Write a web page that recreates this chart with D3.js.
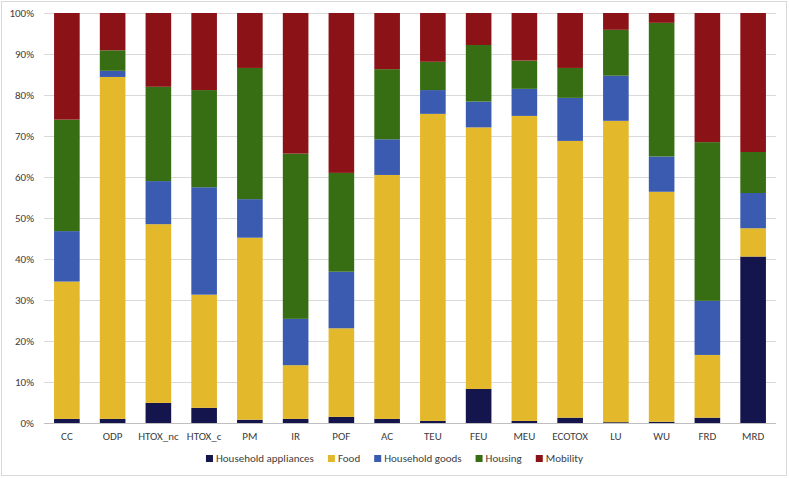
<!DOCTYPE html>
<html>
<head>
<meta charset="utf-8">
<script src="https://cdn.jsdelivr.net/npm/d3@7"></script>
<style>
  body { margin: 0; background: #fff; }
  text { font-family: Carlito, "Open Sans", "Liberation Sans", sans-serif; fill: #404040; }
</style>
</head>
<body>
<svg width="789" height="478"></svg>
<script>
// impact categories along the x axis
var categories = ["CC", "ODP", "HTOX_nc", "HTOX_c", "PM", "IR", "POF", "AC", "TEU", "FEU", "MEU", "ECOTOX", "LU", "WU", "FRD", "MRD"];

// share (%) of each consumption area
var appliances = [1.0, 1.0, 4.9, 3.7, 0.8, 1.0, 1.5, 1.0, 0.5, 8.3, 0.5, 1.3, 0.2, 0.3, 1.3, 40.6];
var food       = [33.5, 83.4, 43.6, 27.6, 44.4, 13.1, 21.6, 59.5, 74.9, 63.8, 74.4, 67.5, 73.5, 56.1, 15.3, 6.9];
var goods      = [12.3, 1.5, 10.5, 26.2, 9.4, 11.3, 13.8, 8.7, 5.8, 6.3, 6.6, 10.5, 11.0, 8.6, 13.2, 8.6];
var housing    = [27.2, 5.0, 23.0, 23.7, 32.0, 40.3, 24.1, 17.1, 6.9, 13.8, 6.9, 7.3, 11.2, 32.6, 38.7, 10.0];
var mobility   = [26.0, 9.1, 18.0, 18.8, 13.4, 34.3, 39.0, 13.7, 11.9, 7.8, 11.6, 13.4, 4.1, 2.4, 31.5, 33.9];

var seriesNames = ["Household appliances", "Food", "Household goods", "Housing", "Mobility"];
var seriesValues = [appliances, food, goods, housing, mobility];
var colors = ["#15154d", "#e3b82a", "#3a5bb0", "#386e13", "#8b1317"];
var yTicks = [0, 0.1, 0.2, 0.3, 0.4, 0.5, 0.6, 0.7, 0.8, 0.9, 1.0];

var svg = d3.select("svg"),
    width = +svg.attr("width"),
    height = +svg.attr("height");

// chart border
svg.append("rect")
    .attr("x", 1.5).attr("y", 1.5)
    .attr("width", width - 4).attr("height", height - 4)
    .attr("fill", "none")
    .attr("stroke", "#d9d9d9");

var margin = {left: 44, right: 13, top: 13, bottom: 55};

var x = d3.scaleBand()
    .domain(categories)
    .range([margin.left, width - margin.right])
    .paddingInner(0.44)
    .paddingOuter(0.22);

var y = d3.scaleLinear()
    .domain([0, 1])
    .range([height - margin.bottom, margin.top]);

// build rows for the stack, normalised to 100%
var rows = categories.map(function (c, i) {
    var row = {cat: c}, total = 0;
    seriesValues.forEach(function (s) { total += s[i]; });
    seriesNames.forEach(function (n, k) { row[n] = seriesValues[k][i] / total; });
    return row;
});

var stacked = d3.stack().keys(seriesNames)(rows);

// gridlines
svg.append("g")
    .selectAll("line")
    .data(yTicks)
    .enter().append("line")
    .attr("x1", margin.left)
    .attr("x2", width - margin.right)
    .attr("y1", function (d) { return Math.round(y(d)) + 0.5; })
    .attr("y2", function (d) { return Math.round(y(d)) + 0.5; })
    .attr("stroke", "#d9d9d9");

// y axis labels
var yAxis = svg.append("g")
    .attr("transform", "translate(" + margin.left + ",0)")
    .call(d3.axisLeft(y).tickValues(yTicks).tickFormat(d3.format(".0%")).tickSize(0).tickPadding(10));
yAxis.select(".domain").remove();
yAxis.selectAll("text").style("font-size", "11px").attr("fill", "#404040");

// bars
svg.append("g")
    .selectAll("g")
    .data(stacked)
    .enter().append("g")
    .attr("fill", function (d, i) { return colors[i]; })
    .selectAll("rect")
    .data(function (d) { return d; })
    .enter().append("rect")
    .attr("x", function (d) { return x(d.data.cat); })
    .attr("width", x.bandwidth())
    .attr("y", function (d) { return y(d[1]); })
    .attr("height", function (d) { return y(d[0]) - y(d[1]); });

// baseline
svg.append("line")
    .attr("x1", margin.left).attr("x2", width - margin.right)
    .attr("y1", Math.round(y(0)) + 0.5).attr("y2", Math.round(y(0)) + 0.5)
    .attr("stroke", "#bfbfbf");

// x axis labels
var xAxis = svg.append("g")
    .attr("transform", "translate(0," + y(0) + ")")
    .call(d3.axisBottom(x).tickSize(0).tickPadding(9));
xAxis.select(".domain").remove();
xAxis.selectAll("text").style("font-size", "11px").attr("fill", "#404040");

// legend
var legend = svg.append("g").attr("transform", "translate(0,461)");
var items = legend.selectAll("g")
    .data(seriesNames)
    .enter().append("g");

items.append("rect")
    .attr("width", 7).attr("height", 7)
    .attr("y", -6)
    .attr("fill", function (d, i) { return colors[i]; });

items.append("text")
    .attr("x", 10)
    .attr("y", 0)
    .attr("dy", "0.05em")
    .style("font-size", "11px")
    .text(function (d) { return d; });

// lay out legend items centred
var offs = [], pos = 0;
items.each(function () {
    offs.push(pos);
    pos += this.getBBox().width + 14;
});
var start = (width - (pos - 14)) / 2;
items.attr("transform", function (d, i) { return "translate(" + (start + offs[i]) + ",0)"; });
</script>
</body>
</html>
